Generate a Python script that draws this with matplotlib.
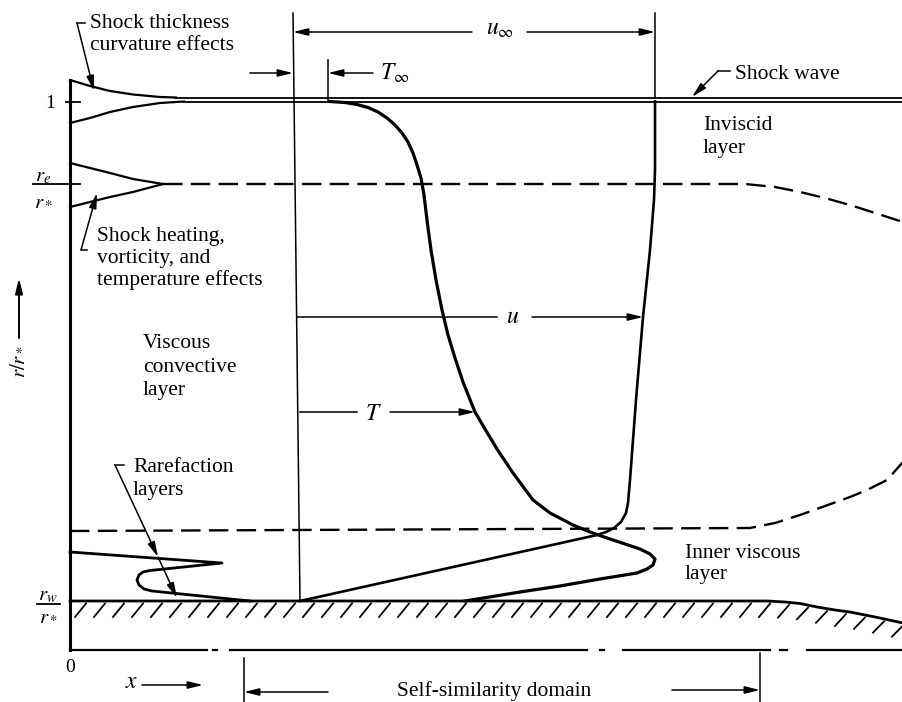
import numpy as np
import matplotlib
matplotlib.use("Agg")
import matplotlib.pyplot as plt

plt.rcParams["font.family"] = ["Liberation Serif", "DejaVu Serif"]
plt.rcParams["mathtext.fontset"] = "stix"
plt.rcParams["lines.scale_dashes"] = False

# ── layout levels (figure pixels, y grows downward) ──────────────────────────
AXIS_X = 70
SHOCK_HI, SHOCK_LO = 97.5, 101.5
R_EDGE = 184
R_WALL = 601
BASE_Y = 650

# ── profiles and boundaries ──────────────────────────────────────────────────
shock_thick_up_x = [70, 90, 110, 133, 160, 176]
shock_thick_up_y = [80, 86, 91, 94.5, 97, 97.5]
shock_thick_lo_x = [70, 90, 110, 133, 160, 184]
shock_thick_lo_y = [123, 118, 112, 107, 103, 101.5]

heat_up_x = [70, 90, 110, 133, 163]
heat_up_y = [163, 168, 173, 179, 184]
heat_lo_x = [70, 90, 110, 133, 163]
heat_lo_y = [207, 202, 197, 192, 184]

T_x = [330, 345, 357, 368, 378, 387, 395, 402, 408, 413, 417, 421, 424, 427,
       431, 436, 442, 448, 455, 463, 475, 485, 497, 513, 533, 550, 573, 590,
       607, 625, 640, 650, 655, 653, 647, 637, 600, 560, 520, 465]
T_y = [101.5, 102.5, 104.5, 107.5, 112, 118, 125, 133, 142, 153, 165, 178,
       195, 220, 250, 280, 310, 335, 358, 382, 412, 429, 449, 473, 500, 513,
       525, 532, 538, 544, 549, 554, 559, 565, 569, 573, 579, 586, 592, 601]

u_x = [655, 655, 654, 652, 650, 643, 636, 630, 628, 626, 621, 614, 606, 597, 300]
u_y = [101.5, 170, 200, 225, 250, 317, 400, 480, 503, 513, 522, 528, 532, 535, 601]

rare_x = [70, 222, 150, 143, 139, 137, 139, 144, 152, 250]
rare_y = [552, 563, 570.5, 572, 575, 580, 585, 589, 591, 601]

edge_x = [163, 745, 775, 800, 825, 850, 875, 903]
edge_y = [184, 184, 187, 192, 198, 205, 213, 222]

inner_x = [70, 750, 775, 800, 825, 850, 867, 887, 903]
inner_y = [531, 528, 523, 515, 506, 497, 490, 480, 462]

wall_x = [70, 767, 785, 800, 817, 835, 850, 875, 903]
wall_y = [601, 601, 602, 603.5, 607, 610, 612, 617, 623]

base_segments = [(70, 207), (213, 217), (230, 587), (600, 604),
                 (623, 770), (780, 787), (807, 903)]

fig = plt.figure(figsize=(9.03, 7.02), dpi=100)
ax = fig.add_axes([0, 0, 1, 1])
ax.set_xlim(0, 903)
ax.set_ylim(702, 0)
ax.axis("off")

K = "black"

# left axis and baseline
ax.plot([AXIS_X, AXIS_X], [80, BASE_Y], color=K, lw=2.2)
for a, b in base_segments:
    ax.plot([a, b], [BASE_Y, BASE_Y], color=K, lw=1.6)
ax.plot([66, 80], [SHOCK_LO, SHOCK_LO], color=K, lw=1.3)
ax.plot([33, 80], [R_EDGE, R_EDGE], color=K, lw=1.3)
ax.plot([37, 60], [604, 604], color=K, lw=1.3)

# shock wave (double line) and its thickness region
ax.plot([175, 903], [SHOCK_HI, SHOCK_HI], color=K, lw=1.3)
ax.plot([183, 903], [SHOCK_LO, SHOCK_LO], color=K, lw=1.3)
ax.plot(shock_thick_up_x, shock_thick_up_y, color=K, lw=1.6)
ax.plot(shock_thick_lo_x, shock_thick_lo_y, color=K, lw=1.6)
ax.plot(heat_up_x, heat_up_y, color=K, lw=1.6)
ax.plot(heat_lo_x, heat_lo_y, color=K, lw=1.6)

# layer boundaries
ax.plot(edge_x, edge_y, color=K, lw=1.7, dashes=(14, 6))
ax.plot(inner_x, inner_y, color=K, lw=1.7, dashes=(14, 6))

# wall with hatching
ax.plot(wall_x, wall_y, color=K, lw=2.0)
for hx in np.arange(75, 895, 19):
    top = np.interp(hx + 11, wall_x, wall_y) + 2.5
    bot = np.interp(hx, wall_x, wall_y) + 16
    ax.plot([hx, hx + 11], [bot, top], color=K, lw=1.3)

# reference line and profiles
ax.plot([293, 300], [13, R_WALL], color=K, lw=1.1)
ax.plot([655, 655], [13, SHOCK_HI], color=K, lw=1.1)
ax.plot([328, 328], [60, SHOCK_LO], color=K, lw=1.1)
ax.plot(u_x, u_y, color=K, lw=1.9, solid_joinstyle="round")
ax.plot(T_x, T_y, color=K, lw=2.3, solid_joinstyle="round")
ax.plot(rare_x, rare_y, color=K, lw=2.0, solid_joinstyle="round")

# arrows
def arrow(x0, y0, x1, y1, lw=1.1):
    ax.annotate("", xy=(x1, y1), xytext=(x0, y0),
                arrowprops=dict(arrowstyle="-|>,head_length=0.9,head_width=0.22",
                                color=K, lw=lw, shrinkA=0, shrinkB=0))

arrow(472, 32, 293, 32)
arrow(527, 32, 655, 32)
arrow(373, 73, 328, 73)
arrow(250, 73, 293, 73)
ax.plot([297, 497], [317, 317], color=K, lw=1.1)
arrow(532, 317, 643, 317)
ax.plot([300, 357], [412, 412], color=K, lw=1.1)
arrow(390, 412, 475, 412)
arrow(19, 338, 19, 278, lw=1.4)
arrow(142, 685, 203, 685)
arrow(328, 692, 244, 692)
arrow(672, 690, 760, 690)
ax.plot([244, 244], [658, 702], color=K, lw=1.1)
ax.plot([760, 760], [653, 702], color=K, lw=1.1)

# leaders
ax.plot([85, 77], [23, 23], color=K, lw=1.1)
arrow(77, 23, 94, 91)
ax.plot([87, 81], [250, 250], color=K, lw=1.1)
arrow(81, 250, 97, 193)
ax.plot([730, 718], [71, 71], color=K, lw=1.1)
arrow(718, 71, 692, 97)
ax.plot([124, 115], [465, 465], color=K, lw=1.1)
arrow(115, 465, 158, 557)
arrow(158, 557, 177, 598)

# text
FS = 15.5
def label(x, y, lines, step=22.5):
    for i, s in enumerate(lines):
        ax.text(x, y + i * step, s, fontsize=FS, ha="left", va="baseline")

label(90, 28, ["Shock thickness", "curvature effects"], step=21.5)
label(97, 241, ["Shock heating,", "vorticity, and", "temperature effects"], step=22)
label(143, 348, ["Viscous", "convective", "layer"], step=23.5)
label(133, 472, ["Rarefaction", "layers"], step=23)
label(703, 130, ["Inviscid", "layer"])
label(735, 79, ["Shock wave"])
label(685, 558, ["Inner viscous", "layer"], step=21)
ax.text(397, 696, "Self-similarity domain", fontsize=FS, ha="left",
        va="baseline")

ax.text(500, 35, r"$u_\infty$", fontsize=17, ha="center", va="baseline")
ax.text(395, 80, r"$T_\infty$", fontsize=17, ha="center", va="baseline")
ax.text(513, 323, r"$u$", fontsize=17, ha="center", va="baseline")
ax.text(373, 420, r"$T$", fontsize=17, ha="center", va="baseline")
ax.text(132, 688, r"$x$", fontsize=17, ha="center", va="baseline")
ax.text(70, 672, "0", fontsize=14, ha="center", va="baseline")
ax.text(50, 108, "1", fontsize=14, ha="center", va="baseline")
ax.text(43, 181, r"$r_e$", fontsize=15, ha="center", va="baseline")
ax.text(43, 206, r"$r_*$", fontsize=15, ha="center", va="baseline")
ax.text(48, 600, r"$r_w$", fontsize=15, ha="center", va="baseline")
ax.text(48, 621, r"$r_*$", fontsize=15, ha="center", va="baseline")
ax.text(19, 362, r"$r/r_*$", fontsize=15, ha="center", va="center",
        rotation=90)

fig.savefig("out.png", dpi=100, facecolor="white")
